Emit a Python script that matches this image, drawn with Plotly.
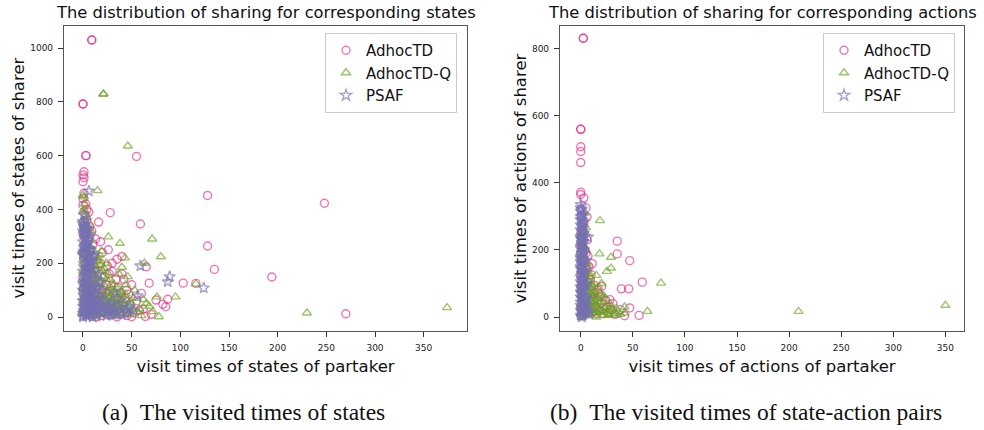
import plotly.graph_objects as go

# ---------------- Data: (a) states ----------------
a_td_x = [9, 9, 0, 0, 3, 3, 55, 1, 0, 1, 0, 0, 3, 7, 16, 28, 59, 128, 248, 128, 135, 194, 103, 116, 65, 68, 270,
          87, 75, 82, 85, 60, 64, 29, 2, 4, 1, 5, 2, 10, 20, 12, 6, 18, 25, 30, 40, 35, 42, 50, 45, 22, 15, 8,
          3, 1, 0, 2, 4, 6, 9, 12, 17, 20, 26, 31, 38, 45, 52, 58, 48, 55, 33, 27, 14, 11, 7, 3, 1, 0, 2, 5, 24,
          30, 40, 13, 9, 36, 43, 62, 70, 50, 35, 19, 23, 28, 34, 16, 10, 0, 1, 4,
          0, 1, 2, 3, 4, 5, 6, 7, 8, 0, 1, 2, 0, 1, 4, 6, 9, 11, 13, 15, 17, 19, 21, 23, 25, 27, 29, 31, 33, 37,
          39, 41, 44, 47, 5, 8, 14, 20, 26, 18]
a_td_y = [1030, 1030, 792, 792, 600, 600, 597, 540, 528, 518, 503, 416, 420, 336, 353, 388, 346, 452, 423, 264, 177,
          149, 126, 125, 187, 126, 12, 66, 63, 47, 38, 88, 2, 7, 380, 360, 300, 280, 260, 270, 240, 230, 215, 200,
          190, 170, 160, 215, 140, 120, 100, 150, 130, 180, 170, 220, 240, 200, 150, 120, 100, 80, 60, 40, 30, 20,
          10, 5, 15, 25, 45, 60, 75, 95, 110, 50, 30, 10, 60, 90, 120, 60, 120, 200, 225, 290, 320, 110, 70, 30,
          10, 1, 0, 5, 90, 52, 140, 170, 205, 150, 30, 45,
          20, 45, 70, 95, 125, 160, 190, 225, 250, 310, 330, 350, 440, 460, 400, 390, 150, 120, 170, 60, 90, 130,
          15, 55, 75, 160, 115, 60, 40, 30, 90, 55, 15, 85, 10, 3, 0, 100, 250, 280]

a_q_x = [21, 21, 46, 15, 0, 1, 26, 38, 71, 80, 63, 43, 95, 76, 78, 72, 116, 230, 374, 2, 1, 3, 0, 5, 2, 8, 4, 10,
         6, 12, 15, 18, 22, 25, 20, 28, 32, 30, 35, 40, 45, 38, 42, 50, 55, 48, 60, 58, 65, 52, 33, 26, 22, 18,
         14, 10, 8, 5, 3, 1, 0, 2, 4, 7, 11, 16, 21, 27, 31, 36, 13, 9, 6, 3, 1, 0, 2, 4, 7, 12, 17, 23, 29, 44,
         37, 24, 19, 11, 46, 53, 40, 47, 34, 62, 68,
         1, 2, 3, 4, 5, 6, 7, 8, 9, 10, 11, 12, 13, 14, 15, 1, 2, 3, 4, 5, 6, 7, 8, 9, 10, 11, 12, 13, 14, 15,
         16, 17, 18, 19, 20, 21, 22, 23, 24, 25, 26, 27, 28, 29, 30, 31, 32, 33, 34, 35, 36, 37, 38, 39, 40,
         41, 43, 44, 46, 49, 0, 0, 0, 0, 0, 1, 2, 0, 3, 5, 7, 9, 12, 16, 20, 24, 28, 17, 8, 6]
a_q_y = [829, 829, 636, 470, 453, 447, 298, 274, 290, 224, 200, 220, 75, 75, 1, 20, 123, 15, 35, 420, 400, 380,
         360, 330, 310, 290, 270, 250, 240, 225, 210, 195, 180, 165, 150, 140, 120, 100, 90, 80, 60, 50, 40, 30,
         20, 10, 5, 30, 50, 70, 60, 70, 80, 100, 120, 140, 160, 180, 200, 220, 250, 150, 110, 90, 70, 50, 30, 15,
         5, 25, 20, 40, 60, 80, 100, 130, 50, 20, 8, 2, 10, 45, 35, 120, 160, 200, 245, 180, 150, 100, 185, 15,
         8, 65, 40,
         10, 25, 40, 55, 70, 85, 100, 115, 130, 145, 160, 175, 190, 205, 220, 235, 170, 125, 95, 35, 15, 65, 5,
         50, 20, 90, 35, 60, 8, 45, 75, 30, 55, 80, 10, 120, 25, 65, 15, 95, 40, 55, 75, 20, 60, 90, 35, 15, 45,
         110, 55, 70, 30, 95, 15, 50, 25, 85, 35, 55, 20, 60, 110, 170, 200, 280, 340, 390, 230, 260, 200, 170,
         140, 130, 170, 140, 110, 230, 320, 350]

a_psaf_x = [6, 124, 89, 87, 59, 56, 0, 1, 2, 0, 1, 3, 2, 0, 4, 1, 5, 2, 0, 3, 6, 1, 4, 2, 0, 7, 3, 5, 1, 8, 2,
            0, 4, 6, 9, 1, 3, 0, 5, 2, 7, 0, 10, 12, 14, 11, 13, 15, 17, 19, 22, 25, 28, 30, 18, 16, 9, 11, 7, 4,
            35, 38, 42, 45, 33, 20, 8, 6, 3, 1, 0,
            0, 1, 2, 3, 4, 5, 6, 7, 8, 9, 10, 0, 1, 2, 3, 4, 5, 6, 7, 8, 9, 10, 0, 1, 2, 3, 4, 5, 6, 7, 2, 3, 1,
            0, 11, 12, 13, 14, 15, 16, 18, 20, 21, 23, 24, 26, 27, 29, 31, 32, 34, 36, 40, 44, 48, 52, 12, 14,
            10, 8, 5, 3, 1, 2, 4, 6, 8, 10, 0, 1, 3, 5, 7]
a_psaf_y = [468, 108, 150, 131, 190, 79, 348, 340, 330, 320, 310, 300, 290, 280, 270, 260, 250, 240, 230, 220,
            210, 200, 190, 180, 170, 160, 150, 140, 130, 120, 110, 100, 90, 80, 70, 60, 50, 40, 30, 20, 10, 5, 0,
            15, 35, 55, 85, 110, 45, 20, 60, 30, 10, 45, 130, 160, 180, 230, 255, 310, 70, 20, 50, 30, 90, 95, 40,
            110, 10, 80, 0,
            15, 25, 35, 45, 55, 65, 75, 85, 95, 105, 115, 125, 135, 145, 155, 165, 175, 185, 195, 205, 215, 225,
            235, 245, 255, 265, 275, 285, 295, 305, 315, 325, 335, 355, 25, 45, 65, 5, 25, 70, 40, 15, 35, 50, 5,
            20, 40, 25, 10, 30, 15, 40, 10, 15, 35, 25, 100, 140, 160, 250, 330, 360, 380, 70, 5, 30, 15, 50, 60,
            95, 115, 200, 230]

# ---------------- Data: (b) state-action pairs ----------------
b_td_x = [2.5, 2.5, 0, 0, 0, 0, 0, 0, 0, 3, 5, 6, 35, 35, 47, 59, 39, 46, 28, 20, 11, 7, 47, 56, 42, 38, 29, 20,
          17, 10, 0, 1, 2, 0, 3, 1, 4, 2, 0, 5, 3, 6, 1, 8, 0, 9, 12, 14, 7, 10, 15, 18, 13, 4, 2, 1, 6, 22, 25,
          11, 16, 3, 0,
          0, 1, 2, 3, 4, 5, 0, 1, 2, 3, 0, 6, 8, 9, 10, 12, 13, 16, 19, 21, 24, 27, 31, 33, 5, 7, 4, 1]
b_td_y = [830, 830, 559, 559, 507, 493, 460, 372, 365, 355, 325, 298, 226, 188, 168, 104, 84, 84, 52, 91, 159,
          181, 27, 5, 4, 22, 22, 42, 69, 126, 250, 230, 210, 190, 170, 150, 130, 110, 90, 80, 60, 40, 20, 10, 5,
          45, 70, 30, 100, 60, 10, 20, 95, 200, 270, 300, 140, 10, 30, 15, 50, 35, 120,
          30, 60, 90, 120, 160, 190, 220, 240, 260, 280, 320, 230, 150, 110, 90, 45, 20, 80, 60, 25, 50, 12, 40,
          8, 15, 70, 50, 175]

b_q_x = [350, 209, 77, 18.5, 18, 29, 29, 25, 15, 64, 42, 42, 22, 30, 4, 5, 0, 1, 2, 0, 3, 1, 4, 2, 5, 0, 6, 3,
         8, 1, 10, 2, 12, 4, 15, 7, 9, 11, 13, 16, 19, 21, 24, 26, 33, 36, 6, 8, 10, 14, 0, 1, 3, 17, 28, 20, 5,
         0, 1, 2, 3, 4, 5, 6, 7, 8, 9, 10, 11, 12, 13, 14, 16, 18, 20, 22, 23, 25, 27, 29, 31, 34, 38, 0, 1, 2,
         3, 0, 1, 2, 3, 4, 5, 6, 7, 8, 9, 11, 12, 15, 17, 19, 0, 2, 4, 1, 3]
b_q_y = [35, 17, 101, 287, 188, 178, 146, 136, 124, 17, 30, 12, 64, 22, 310, 267, 240, 220, 200, 180, 160, 140,
         120, 100, 90, 80, 70, 60, 50, 40, 30, 20, 10, 5, 0, 110, 85, 60, 40, 25, 15, 5, 30, 10, 5, 15, 150, 130,
         95, 75, 10, 0, 30, 45, 40, 100, 200,
         30, 50, 70, 90, 110, 130, 20, 40, 60, 20, 70, 45, 25, 55, 15, 35, 20, 45, 15, 55, 20, 5, 30, 10, 25, 8,
         150, 170, 190, 210, 230, 250, 260, 180, 90, 50, 100, 160, 10, 120, 100, 80, 60, 90, 70, 200, 35, 15, 85,
         125]

b_psaf_x = [0, 0, 7, 1, 0, 2, 1, 0, 3, 0, 1, 2, 0, 1, 3, 0, 2, 1, 0, 4, 1, 0, 2, 1, 0, 3, 1, 0, 2, 4, 1, 0, 3,
            1, 5, 6, 5, 4, 2, 0, 1, 0, 2, 3, 1, 0, 2, 3,
            0, 1, 2, 0, 1, 2, 0, 1, 2, 0, 1, 2, 0, 1, 2, 0, 1, 2, 0, 1, 2, 0, 1, 2, 0, 1, 2, 0, 3, 4, 5, 6, 7, 8,
            3, 4, 5, 3, 2]
b_psaf_y = [335, 315, 238, 300, 290, 280, 270, 260, 250, 240, 230, 220, 210, 200, 190, 180, 170, 160, 150, 140,
            130, 120, 110, 100, 90, 80, 70, 60, 50, 40, 30, 20, 10, 0, 20, 60, 100, 15, 5, 45, 115, 165, 245, 285,
            320, 300, 130, 55,
            5, 15, 25, 35, 55, 65, 75, 85, 95, 105, 125, 135, 145, 155, 165, 175, 185, 195, 205, 215, 225, 235,
            255, 265, 275, 290, 305, 325, 140, 95, 55, 35, 20, 10, 200, 240, 170, 30, 90]

series_names = ["AdhocTD", "AdhocTD-Q", "PSAF"]
colors = ["#e7298a", "#66a61e", "#7570b3"]
symbols = ["circle-open", "triangle-up-open", "star-open"]

titles = ["The distribution of sharing for corresponding states",
          "The distribution of sharing for corresponding actions"]
xlabels = ["visit times of states of partaker", "visit times of actions of partaker"]
ylabels = ["visit times of states of sharer", "visit times of actions of sharer"]
captions = ["(a)\u00a0\u00a0The visited times of states", "(b)\u00a0\u00a0The visited times of state-action pairs"]

W, H = 984, 430
FONT = "DejaVu Sans"

fig = go.Figure()

panels = [
    ([a_td_x, a_q_x, a_psaf_x], [a_td_y, a_q_y, a_psaf_y]),
    ([b_td_x, b_q_x, b_psaf_x], [b_td_y, b_q_y, b_psaf_y]),
]

for p, (xs, ys) in enumerate(panels):
    xa = "x" if p == 0 else "x2"
    ya = "y" if p == 0 else "y2"
    lg = "legend" if p == 0 else "legend2"
    for i in range(3):
        fig.add_trace(go.Scatter(
            x=xs[i], y=ys[i], mode="markers", name=series_names[i],
            xaxis=xa, yaxis=ya, legend=lg,
            marker=dict(symbol=symbols[i], size=8 if i < 2 else 8.5, color=colors[i],
                        opacity=0.65, line=dict(width=1.4, color=colors[i])),
        ))

# axis geometry (pixels)
ax_left = [(64, 467), (560, 964)]
ax_top, ax_bot = 26, 331
yd = [(H - ax_bot) / H, (H - ax_top) / H]

axis_common = dict(showline=True, linecolor="#555555", linewidth=1.2, mirror=True,
                   ticks="outside", ticklen=5, tickwidth=1, tickcolor="#333333",
                   showgrid=False, zeroline=False, automargin=False, ticklabelstandoff=3,
                   tickfont=dict(family=FONT, size=9, color="#222222"))
lab_font = dict(family=FONT, size=16.5, color="#111111")

fig.update_layout(
    xaxis=dict(domain=[ax_left[0][0] / W, ax_left[0][1] / W], range=[-19.5, 394.5], anchor="y",
               tickvals=[0, 50, 100, 150, 200, 250, 300, 350],
               title=dict(text=xlabels[0], font=lab_font, standoff=8),
               **axis_common),
    yaxis=dict(domain=yd, range=[-52, 1082], anchor="x",
               tickvals=[0, 200, 400, 600, 800, 1000],
               **axis_common),
    xaxis2=dict(domain=[ax_left[1][0] / W, ax_left[1][1] / W], range=[-19.9, 367.8], anchor="y2",
                tickvals=[0, 50, 100, 150, 200, 250, 300, 350],
                title=dict(text=xlabels[1], font=lab_font, standoff=8),
                **axis_common),
    yaxis2=dict(domain=yd, range=[-41.5, 866.6], anchor="x2",
                tickvals=[0, 200, 400, 600, 800],
                **axis_common),
    width=W, height=H,
    margin=dict(l=0, r=0, t=0, b=0, autoexpand=False),
    paper_bgcolor="white", plot_bgcolor="white",
    legend=dict(x=325 / W, y=1 - 33 / H, xanchor="left", yanchor="top",
                bordercolor="#cccccc", borderwidth=1, bgcolor="rgba(255,255,255,0.8)",
                font=dict(family=FONT, size=15, color="#111111"), tracegroupgap=0),
    legend2=dict(x=823 / W, y=1 - 33 / H, xanchor="left", yanchor="top",
                 bordercolor="#cccccc", borderwidth=1, bgcolor="rgba(255,255,255,0.8)",
                 font=dict(family=FONT, size=15, color="#111111"), tracegroupgap=0),
    showlegend=True,
)

# titles and y-axis labels
ylab_x = [18, 520]
ymid = 1 - (ax_top + ax_bot) / 2 / H
for p in range(2):
    cx = (ax_left[p][0] + ax_left[p][1]) / 2 / W
    fig.add_annotation(x=cx, y=1 - 13 / H, xref="paper", yref="paper", text=titles[p],
                       showarrow=False, xanchor="center", yanchor="middle",
                       font=dict(family=FONT, size=16.3, color="#111111"))
    fig.add_annotation(x=ylab_x[p] / W, y=ymid, xref="paper", yref="paper", text=ylabels[p],
                       showarrow=False, xanchor="center", yanchor="middle", textangle=-90,
                       font=lab_font)

cap_x = [243, 746]
for p in range(2):
    fig.add_annotation(x=cap_x[p] / W, y=1 - 412 / H, xref="paper", yref="paper", text=captions[p],
                       showarrow=False, xanchor="center", yanchor="middle",
                       font=dict(family="Liberation Serif", size=23.5, color="#111111"))

fig.write_html("out.html", config={"displayModeBar": False},
               post_script="document.body.style.margin='0';document.body.style.overflow='hidden';")
